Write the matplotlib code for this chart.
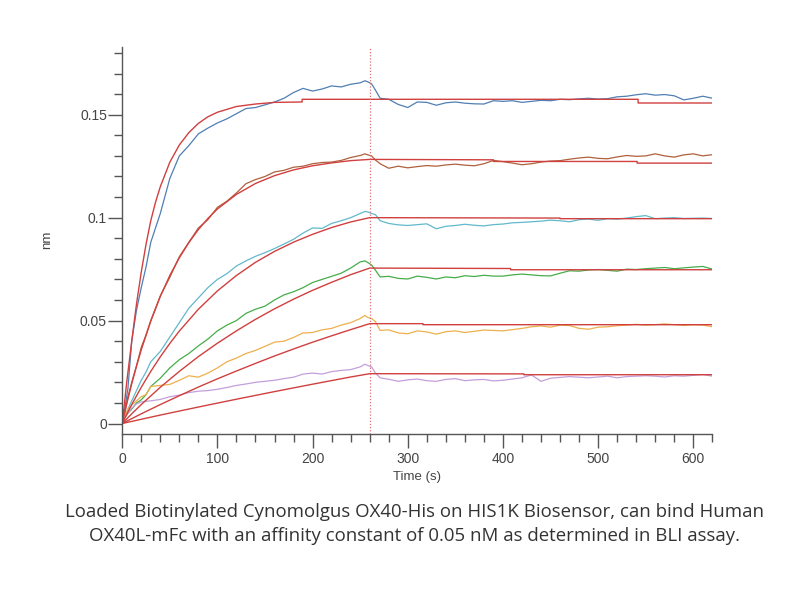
import numpy as np
import matplotlib
matplotlib.use("Agg")
import matplotlib.pyplot as plt
from matplotlib.ticker import MultipleLocator

plt.rcParams['font.family'] = ['Liberation Sans', 'DejaVu Sans']

# time grids (s) for the measured traces
t_assoc = [0, 3, 6, 10, 15, 20, 25, 30, 40, 50, 60, 70, 80, 90, 100, 110, 120, 130,
           140, 150, 160, 170, 180, 190, 200, 210, 220, 230, 240, 250, 255, 258]
t_dissoc = [262, 266, 271, 280, 290, 300, 310, 320, 330, 340, 350, 360, 370, 380, 390,
            400, 410, 420, 430, 440, 450, 460, 470, 480, 490, 500, 510, 520, 530, 540,
            550, 560, 570, 580, 590, 600, 610, 620]

# measured responses (nm), highest concentration first
blue_a = [0, 0.008, 0.017, 0.040, 0.055, 0.066, 0.076, 0.088, 0.102, 0.119, 0.130, 0.135,
          0.1407, 0.1435, 0.146, 0.148, 0.1505, 0.153, 0.1535, 0.1548, 0.1562, 0.158, 0.1608,
          0.1628, 0.1615, 0.1625, 0.1640, 0.1635, 0.1648, 0.1655, 0.1665, 0.1660]
blue_d = [0.1650, 0.162, 0.158, 0.1575, 0.155, 0.1535, 0.1562, 0.156, 0.1546, 0.1558, 0.1562,
          0.1556, 0.1553, 0.1552, 0.1568, 0.1565, 0.1568, 0.1560, 0.1565, 0.1570, 0.1568,
          0.1575, 0.1573, 0.1577, 0.1580, 0.1576, 0.1578, 0.1587, 0.1590, 0.1597, 0.1602,
          0.1595, 0.1598, 0.1592, 0.1572, 0.1580, 0.1590, 0.1580]

brown_a = [0, 0.006, 0.013, 0.020, 0.028, 0.037, 0.043, 0.050, 0.062, 0.071, 0.081, 0.088,
           0.095, 0.099, 0.105, 0.108, 0.112, 0.1165, 0.1185, 0.1200, 0.1222, 0.1230, 0.1245,
           0.1250, 0.1262, 0.1268, 0.1270, 0.1278, 0.1292, 0.1302, 0.1310, 0.1305]
brown_d = [0.1300, 0.1280, 0.1262, 0.1240, 0.1250, 0.1242, 0.1248, 0.1253, 0.1250, 0.1256,
           0.1260, 0.1255, 0.1252, 0.1262, 0.1278, 0.1272, 0.1265, 0.1257, 0.1262, 0.1270,
           0.1275, 0.1277, 0.1284, 0.1290, 0.1294, 0.1288, 0.1286, 0.1295, 0.1302, 0.1298,
           0.1300, 0.1310, 0.1300, 0.1294, 0.1305, 0.1310, 0.1300, 0.1306]

cyan_a = [0, 0.004, 0.007, 0.011, 0.016, 0.021, 0.025, 0.030, 0.035, 0.042, 0.049, 0.056,
          0.061, 0.066, 0.0700, 0.0728, 0.0765, 0.0790, 0.0812, 0.0830, 0.0850, 0.0872,
          0.0895, 0.0925, 0.0950, 0.0948, 0.0972, 0.0985, 0.1000, 0.1020, 0.1030, 0.1028]
cyan_d = [0.1020, 0.1015, 0.0985, 0.0972, 0.0965, 0.0962, 0.0966, 0.0970, 0.0946, 0.0958,
          0.0962, 0.0968, 0.0963, 0.0960, 0.0966, 0.0969, 0.0975, 0.0977, 0.0980, 0.0983,
          0.0988, 0.0985, 0.0980, 0.0990, 0.0993, 0.0987, 0.0995, 0.0993, 0.0998, 0.1005,
          0.1010, 0.0995, 0.0998, 0.1000, 0.0996, 0.0997, 0.0998, 0.0996]

green_a = [0, 0.003, 0.005, 0.007, 0.010, 0.0115, 0.014, 0.018, 0.022, 0.027, 0.031, 0.034,
           0.0377, 0.041, 0.045, 0.0478, 0.050, 0.0535, 0.0555, 0.0570, 0.0600, 0.0625,
           0.0640, 0.0660, 0.0685, 0.0700, 0.0715, 0.0730, 0.0755, 0.0785, 0.0790, 0.0782]
green_d = [0.0770, 0.0745, 0.0712, 0.0715, 0.0705, 0.0702, 0.0716, 0.0710, 0.0702, 0.0712,
           0.0708, 0.0718, 0.0714, 0.0720, 0.0716, 0.0716, 0.0722, 0.0726, 0.0722, 0.0718,
           0.0717, 0.0730, 0.0742, 0.0740, 0.0746, 0.0748, 0.0744, 0.0740, 0.0750, 0.0748,
           0.0752, 0.0755, 0.0758, 0.0752, 0.0756, 0.0760, 0.0763, 0.0750]

orange_a = [0, 0.004, 0.007, 0.009, 0.011, 0.013, 0.014, 0.018, 0.0185, 0.019, 0.021, 0.0232,
            0.0225, 0.0245, 0.027, 0.030, 0.0318, 0.0340, 0.0355, 0.0375, 0.0395, 0.0400,
            0.0418, 0.0440, 0.0442, 0.0455, 0.0462, 0.0478, 0.0490, 0.0510, 0.0525, 0.0515]
orange_d = [0.0510, 0.0495, 0.0452, 0.0455, 0.0440, 0.0436, 0.0450, 0.0445, 0.0434, 0.0446,
            0.0450, 0.0442, 0.0448, 0.0454, 0.0452, 0.0450, 0.0456, 0.0462, 0.0470, 0.0474,
            0.0468, 0.0478, 0.0476, 0.0462, 0.0458, 0.0468, 0.0470, 0.0475, 0.0478, 0.0482,
            0.0478, 0.0480, 0.0484, 0.0480, 0.0476, 0.0480, 0.0478, 0.0470]

purple_a = [0, 0.003, 0.005, 0.0075, 0.0095, 0.0105, 0.0108, 0.011, 0.0117, 0.0130, 0.0138,
            0.0150, 0.0157, 0.0160, 0.0166, 0.0175, 0.0185, 0.0192, 0.0200, 0.0205, 0.0210,
            0.0218, 0.0225, 0.0240, 0.0245, 0.0240, 0.0252, 0.0258, 0.0262, 0.0275, 0.0288,
            0.0282]
purple_d = [0.0275, 0.0245, 0.0222, 0.0215, 0.0205, 0.0212, 0.0216, 0.0208, 0.0205, 0.0214,
            0.0218, 0.0208, 0.0212, 0.0214, 0.0207, 0.0210, 0.0216, 0.0222, 0.0236, 0.0205,
            0.0220, 0.0224, 0.0228, 0.0225, 0.0222, 0.0226, 0.0230, 0.0222, 0.0228, 0.0230,
            0.0232, 0.0230, 0.0226, 0.0232, 0.0230, 0.0234, 0.0238, 0.0230]

# fitted curves
fit1_t = [0, 5, 10, 15, 20, 25, 30, 35, 40, 50, 60, 70, 80, 90, 100, 120, 140, 160, 189, 189,
          260, 542, 542, 620]
fit1_v = [0, 0.021, 0.040, 0.058, 0.0735, 0.087, 0.0985, 0.1075, 0.115, 0.1269, 0.1353,
          0.1413, 0.1458, 0.149, 0.1512, 0.154, 0.1552, 0.1560, 0.1562, 0.1575, 0.1575,
          0.1575, 0.1557, 0.1557]
fit2_t = [0, 5, 10, 15, 20, 30, 40, 50, 60, 70, 80, 90, 100, 120, 140, 160, 180, 200, 220,
          240, 260, 390, 390, 541, 541, 620]
fit2_v = [0, 0.0100, 0.0193, 0.0278, 0.0358, 0.0497, 0.0617, 0.0719, 0.0805, 0.0879, 0.0942,
          0.0996, 0.1042, 0.1113, 0.1166, 0.1204, 0.1232, 0.1252, 0.1266, 0.1277, 0.1283,
          0.1281, 0.1273, 0.1273, 0.1265, 0.1265]
fit3_t = [0, 5, 10, 20, 30, 40, 50, 60, 80, 100, 120, 140, 160, 180, 200, 220, 240, 260,
          460, 460, 620]
fit3_v = [0, 0.0047, 0.0092, 0.0176, 0.0253, 0.0324, 0.0389, 0.0449, 0.0555, 0.0644, 0.0719,
          0.0783, 0.0836, 0.0881, 0.0919, 0.0952, 0.0979, 0.1000, 0.0998, 0.0995, 0.0995]
fit4_t = [0, 10, 20, 40, 60, 80, 100, 120, 140, 160, 180, 200, 220, 240, 260, 408, 408, 620]
fit4_v = [0, 0.0047, 0.0092, 0.0176, 0.0253, 0.0325, 0.0390, 0.0450, 0.0506, 0.0557, 0.0604,
          0.0647, 0.0686, 0.0723, 0.0755, 0.0753, 0.0747, 0.0747]
fit5_t = [0, 20, 40, 60, 80, 100, 120, 140, 160, 180, 200, 220, 240, 260, 316, 316, 620]
fit5_v = [0, 0.0047, 0.0092, 0.0135, 0.0177, 0.0217, 0.0255, 0.0292, 0.0328, 0.0362, 0.0395,
          0.0426, 0.0456, 0.0485, 0.0485, 0.0480, 0.0480]
fit6_t = [0, 40, 80, 120, 160, 200, 240, 260, 422, 422, 620]
fit6_v = [0, 0.0041, 0.0080, 0.0118, 0.0155, 0.0191, 0.0226, 0.0242, 0.0241, 0.0237, 0.0237]

t_switch = 260

caption = ("Loaded Biotinylated Cynomolgus OX40-His on HIS1K Biosensor, can bind Human\n"
           "OX40L-mFc with an affinity constant of 0.05 nM as determined in BLI assay.")

fig = plt.figure(figsize=(8.04, 6), dpi=100)
ax = fig.add_axes([0.152, 0.277, 0.734, 0.645])

traces = [(blue_a, blue_d, '#4f7fb3'), (brown_a, brown_d, '#b0603c'),
          (cyan_a, cyan_d, '#62b8cc'), (green_a, green_d, '#45ad4a'),
          (orange_a, orange_d, '#eeb04e'), (purple_a, purple_d, '#c39fdb')]
for a, d, c in traces:
    ax.plot(t_assoc + t_dissoc, a + d, color=c, lw=0.9)

fit_red = '#d0403f'
for ft, fv in [(fit1_t, fit1_v), (fit2_t, fit2_v), (fit3_t, fit3_v),
               (fit4_t, fit4_v), (fit5_t, fit5_v), (fit6_t, fit6_v)]:
    ax.plot(ft, fv, color=fit_red, lw=1.0)

ax.axvline(t_switch, color='#e07070', lw=0.9, ls=(0, (1, 1.5)))

ax.set_xlim(0, 620)
ax.set_ylim(-0.005, 0.183)
ax.spines['top'].set_visible(False)
ax.spines['right'].set_visible(False)
for s in ['left', 'bottom']:
    ax.spines[s].set_color('#555555')
    ax.spines[s].set_linewidth(1.0)

ax.xaxis.set_major_locator(MultipleLocator(100))
ax.xaxis.set_minor_locator(MultipleLocator(20))
ax.yaxis.set_major_locator(MultipleLocator(0.05))
ax.yaxis.set_minor_locator(MultipleLocator(0.01))
ax.set_yticks([0, 0.05, 0.1, 0.15])
ax.set_yticklabels(['0', '0.05', '0.1', '0.15'])
ax.tick_params(which='major', length=10, width=1, color='#555555', labelsize=10,
               labelcolor='#444444')
ax.tick_params(axis='y', which='major', pad=1)
ax.tick_params(axis='x', which='major', pad=3)
ax.tick_params(which='minor', length=5.8, width=1, color='#555555')

ax.set_xlabel('Time (s)', fontsize=9.5, color='#444444', labelpad=4)
ax.set_ylabel('nm', fontsize=9.5, color='#444444', labelpad=19)

fig.text(0.516, 0.126, caption, ha='center', va='center', fontsize=13.4,
         family=['Open Sans', 'DejaVu Sans'], color='#333333', linespacing=1.42)

fig.savefig('out.png', dpi=100)
